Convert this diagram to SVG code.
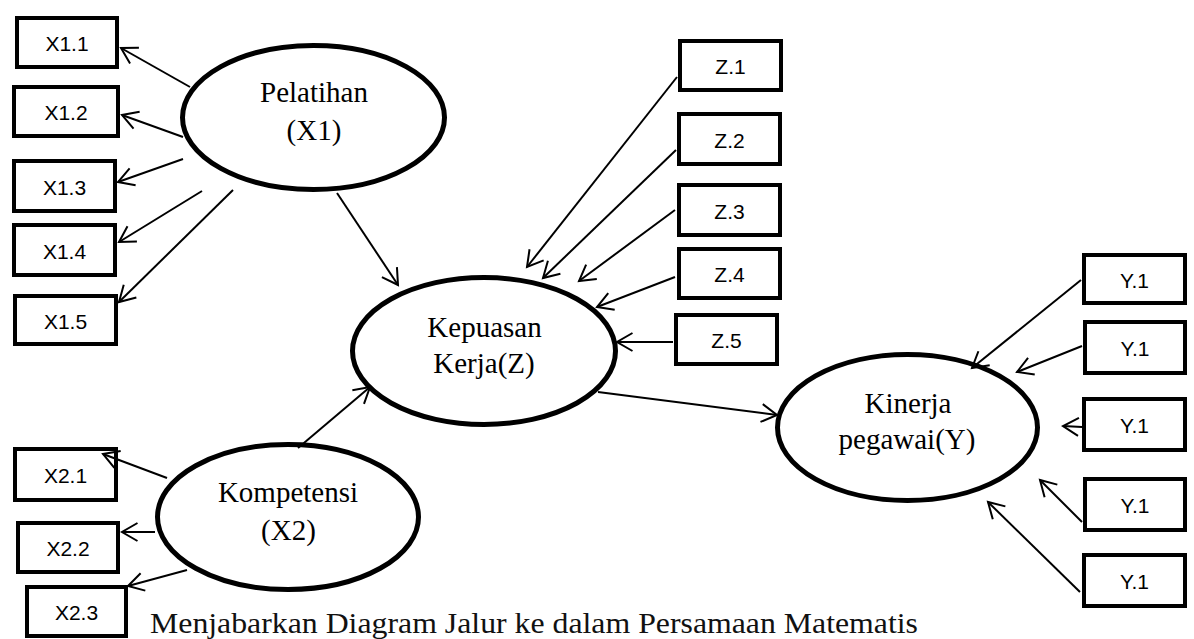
<svg xmlns="http://www.w3.org/2000/svg" width="1194" height="639" viewBox="0 0 1194 639">
<style>
.box{fill:#fff;stroke:#000;stroke-width:4}
.ell{fill:#fff;stroke:#000;stroke-width:5}
.bl{font-family:"Liberation Sans",Arial,sans-serif;font-size:21px;text-anchor:middle;fill:#000}
.nl{font-family:"Liberation Serif","Times New Roman",serif;font-size:29px;text-anchor:middle;fill:#000}
.cap{font-family:"Liberation Serif","Times New Roman",serif;font-size:29px;fill:#111}
.c line{stroke:#000;stroke-width:2;marker-end:url(#arr)}
</style>
<defs>
<marker id="arr" viewBox="-20 -12 24 24" markerWidth="24" markerHeight="24" refX="0" refY="0" orient="auto" markerUnits="userSpaceOnUse">
<path d="M-15.5,-9 L0,0 L-15.5,9" fill="none" stroke="#000" stroke-width="2"/>
</marker>
</defs>
<rect width="1194" height="639" fill="#fff"/>

<g id="X1"><ellipse class="ell" cx="313.5" cy="117.5" rx="131" ry="72"/><text class="nl" x="314" y="102">Pelatihan</text><text class="nl" x="314" y="140">(X1)</text></g>
<g id="Z"><ellipse class="ell" cx="484" cy="351" rx="131.5" ry="73.5"/><text class="nl" x="484.5" y="337">Kepuasan</text><text class="nl" x="484" y="373">Kerja(Z)</text></g>
<g id="Y"><ellipse class="ell" cx="907.5" cy="427.5" rx="130" ry="73"/><text class="nl" x="908" y="413">Kinerja</text><text class="nl" x="907" y="449">pegawai(Y)</text></g>
<g id="X2"><ellipse class="ell" cx="288" cy="517" rx="130.5" ry="72.5"/><text class="nl" x="288" y="502">Kompetensi</text><text class="nl" x="288.5" y="540">(X2)</text></g>

<g id="X1_1"><rect class="box" x="17" y="18" width="100" height="49"/><text class="bl" x="67" y="51">X1.1</text></g>
<g id="X1_2"><rect class="box" x="14" y="87" width="104" height="49"/><text class="bl" x="66" y="120">X1.2</text></g>
<g id="X1_3"><rect class="box" x="14" y="161" width="101" height="50"/><text class="bl" x="64.5" y="194.5">X1.3</text></g>
<g id="X1_4"><rect class="box" x="14" y="225" width="101" height="50"/><text class="bl" x="64.5" y="258.5">X1.4</text></g>
<g id="X1_5"><rect class="box" x="15" y="296" width="101" height="48"/><text class="bl" x="65.5" y="328.5">X1.5</text></g>

<g id="Z1"><rect class="box" x="680" y="41" width="101" height="49"/><text class="bl" x="730.5" y="74">Z.1</text></g>
<g id="Z2"><rect class="box" x="679" y="114" width="101" height="50"/><text class="bl" x="729.5" y="147.5">Z.2</text></g>
<g id="Z3"><rect class="box" x="679" y="185" width="101" height="50"/><text class="bl" x="729.5" y="218.5">Z.3</text></g>
<g id="Z4"><rect class="box" x="679" y="249" width="101" height="49"/><text class="bl" x="729.5" y="282">Z.4</text></g>
<g id="Z5"><rect class="box" x="676" y="315" width="101" height="49"/><text class="bl" x="726.5" y="348">Z.5</text></g>

<g id="Y1"><rect class="box" x="1084" y="255" width="101" height="48"/><text class="bl" x="1134.5" y="287.5">Y.1</text></g>
<g id="Y2"><rect class="box" x="1085" y="322" width="100" height="51"/><text class="bl" x="1135" y="356">Y.1</text></g>
<g id="Y3"><rect class="box" x="1084" y="399" width="101" height="51"/><text class="bl" x="1134.5" y="433">Y.1</text></g>
<g id="Y4"><rect class="box" x="1085" y="479" width="100" height="51"/><text class="bl" x="1135" y="513">Y.1</text></g>
<g id="Y5"><rect class="box" x="1084" y="555" width="101" height="51"/><text class="bl" x="1134.5" y="589">Y.1</text></g>

<g id="X2_1"><rect class="box" x="15" y="449" width="101" height="51"/><text class="bl" x="65.5" y="483">X2.1</text></g>
<g id="X2_2"><rect class="box" x="18" y="523" width="100" height="49"/><text class="bl" x="68" y="556">X2.2</text></g>
<g id="X2_3"><rect class="box" x="27" y="587" width="99" height="49"/><text class="bl" x="76.5" y="620">X2.3</text></g>

<g id="connectors" class="c">
<line x1="190" y1="87" x2="121" y2="48"/>
<line x1="183" y1="137" x2="122" y2="115"/>
<line x1="183" y1="159" x2="118" y2="182"/>
<line x1="202" y1="191" x2="119" y2="242"/>
<line x1="233" y1="190" x2="119" y2="302"/>
<line x1="337" y1="193" x2="398" y2="285"/>
<line x1="677" y1="77" x2="527" y2="267"/>
<line x1="676" y1="150" x2="543" y2="278"/>
<line x1="675" y1="210" x2="579" y2="281"/>
<line x1="675" y1="277" x2="597" y2="307"/>
<line x1="673" y1="342" x2="617" y2="342"/>
<line x1="598" y1="392" x2="777" y2="415"/>
<line x1="1081" y1="280" x2="972" y2="368"/>
<line x1="1082" y1="346" x2="1017" y2="372"/>
<line x1="1082" y1="427" x2="1063" y2="426"/>
<line x1="1082" y1="522" x2="1040" y2="480"/>
<line x1="1080" y1="592" x2="988" y2="502"/>
<line x1="167" y1="478" x2="103" y2="454"/>
<line x1="155" y1="532" x2="122" y2="532"/>
<line x1="187" y1="570" x2="128" y2="586"/>
<line x1="298" y1="448" x2="370" y2="387"/>
</g>

<text class="cap" x="150" y="633" textLength="768" lengthAdjust="spacingAndGlyphs">Menjabarkan Diagram Jalur ke dalam Persamaan Matematis</text>
</svg>
